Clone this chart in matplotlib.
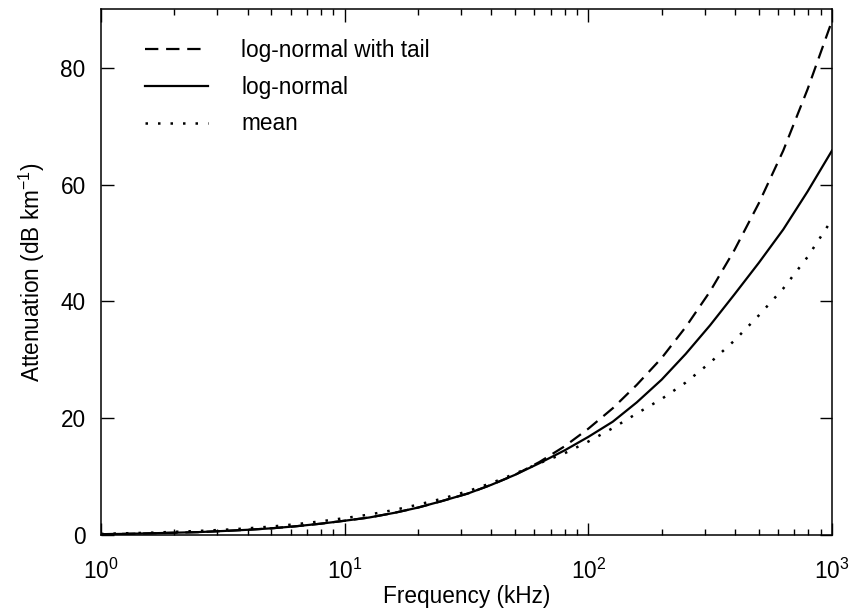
import matplotlib
matplotlib.use('Agg')
import matplotlib.pyplot as plt
from matplotlib.ticker import LogLocator, NullFormatter, MultipleLocator

plt.rcParams['font.family'] = ['Liberation Sans', 'DejaVu Sans']
plt.rcParams['mathtext.default'] = 'regular'

# frequency in kHz
freq = [1, 1.25, 1.6, 2, 2.5, 3.2, 4, 5, 6.3, 8, 10, 12.6, 16, 20, 25, 32, 40,
        50, 63, 80, 100, 126, 158, 200, 251, 316, 398, 501, 631, 794, 1000]
# attenuation in dB/km
lognormal = [0.15, 0.2, 0.3, 0.4, 0.5, 0.7, 0.9, 1.15, 1.5, 1.95, 2.45, 3.0,
             3.8, 4.7, 5.8, 7.1, 8.6, 10.3, 12.3, 14.5, 16.8, 19.4, 22.7,
             26.6, 31.0, 35.9, 41.2, 46.6, 52.3, 58.8, 65.8]
lognormal_tail = [0.15, 0.2, 0.3, 0.4, 0.5, 0.7, 0.9, 1.15, 1.5, 1.95, 2.45,
                  3.0, 3.8, 4.7, 5.8, 7.1, 8.6, 10.3, 12.5, 15.2, 18.2, 21.7,
                  25.7, 30.3, 35.6, 41.7, 48.8, 56.8, 65.8, 76.3, 88.0]
mean = [0.2, 0.3, 0.4, 0.55, 0.7, 0.9, 1.15, 1.45, 1.85, 2.35, 2.9, 3.5, 4.3,
        5.2, 6.2, 7.5, 8.9, 10.5, 12.3, 14.0, 16.0, 18.3, 20.8, 23.3, 26.1,
        29.5, 33.3, 37.6, 42.2, 47.6, 54.0]

fig = plt.figure(figsize=(8.52, 6.15), dpi=100)
ax = fig.add_axes([0.1185, 0.130, 0.858, 0.855])

ax.plot(freq, lognormal_tail, color='black', lw=1.6, ls=(0, (6, 3.5)),
        label='log-normal with tail')
ax.plot(freq, lognormal, color='black', lw=1.6, ls='-', label='log-normal')
ax.plot(freq, mean, color='black', lw=1.8, ls=(0, (1, 4)), label='mean')

ax.set_xscale('log')
ax.set_xlim(1, 1000)
ax.set_ylim(0, 90)
ax.yaxis.set_major_locator(MultipleLocator(20))
ax.xaxis.set_minor_locator(LogLocator(base=10, subs=range(2, 10)))
ax.xaxis.set_minor_formatter(NullFormatter())

ax.tick_params(which='both', direction='in', top=True, right=True,
               labelsize=16.3, width=1.0)
ax.tick_params(which='major', length=9)
ax.tick_params(axis='y', which='major', pad=11)
ax.tick_params(axis='x', which='major', pad=17)
ax.tick_params(which='minor', length=4.5)
for s in ax.spines.values():
    s.set_linewidth(1.1)

ax.set_xlabel('Frequency (kHz)', fontsize=16.3, labelpad=1)
ax.set_ylabel('Attenuation (dB km$^{-1}$)', fontsize=16.3, labelpad=10)

ax.legend(loc='upper left', frameon=False, fontsize=16.3, handlelength=2.8,
          handletextpad=1.45, labelspacing=0.6, borderaxespad=0.0,
          bbox_to_anchor=(0.048, 0.96))

fig.savefig('out.png', dpi=100)
